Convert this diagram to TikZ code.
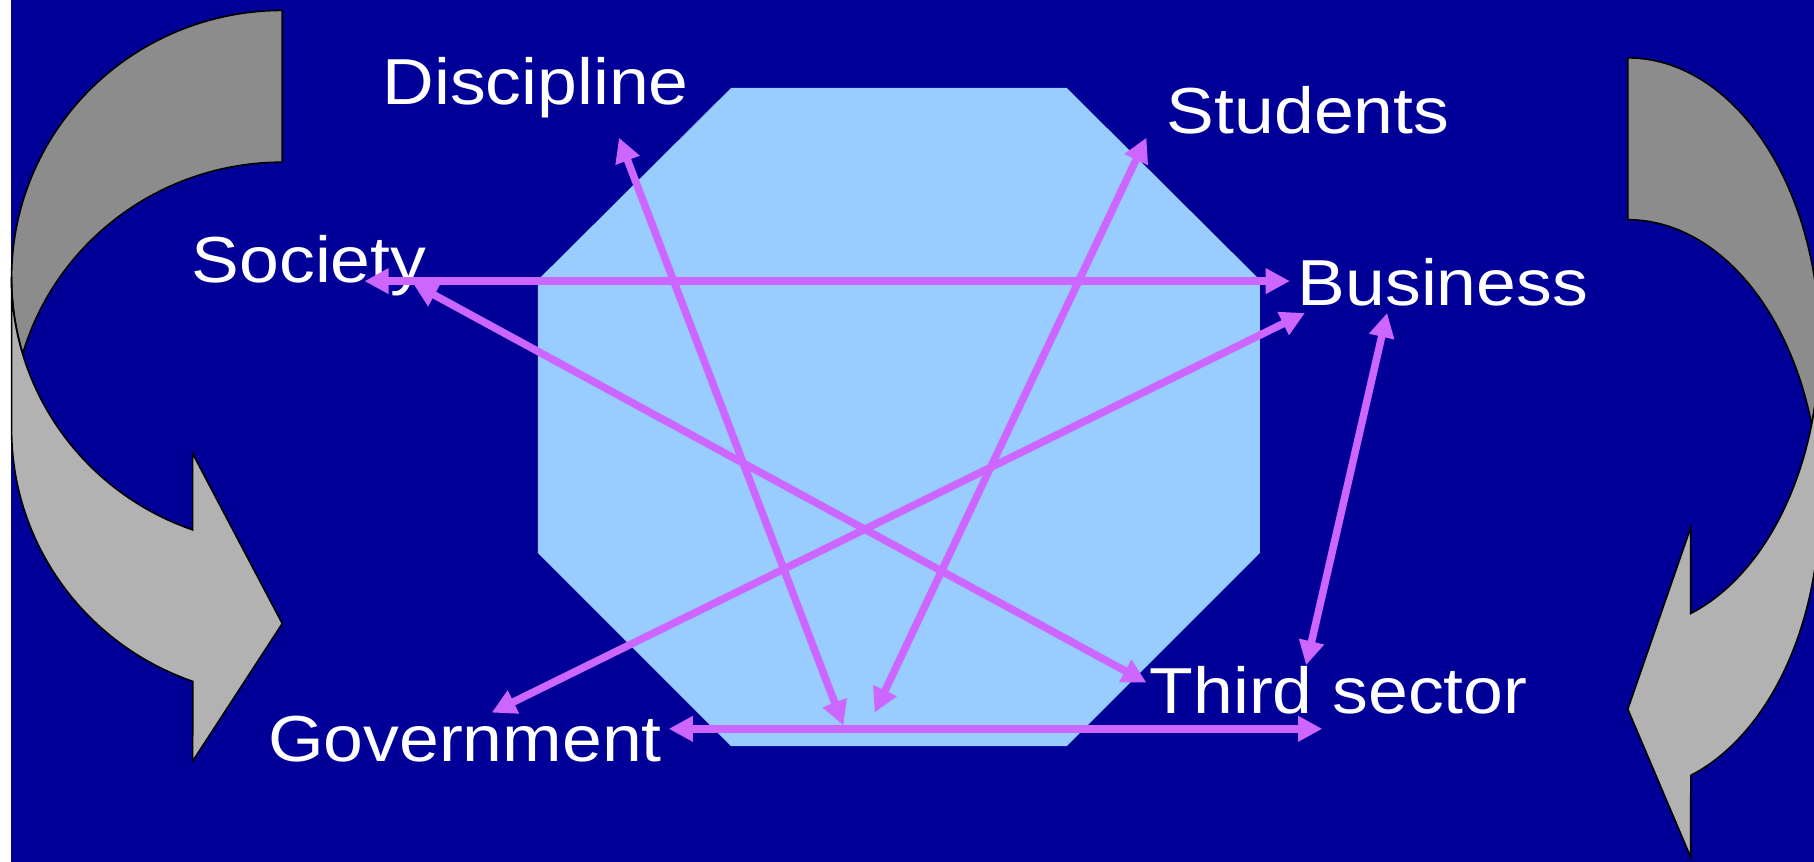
\documentclass[tikz,border=0pt]{standalone}
\usepackage{fontspec}
\setmainfont{Liberation Sans}[FakeStretch=1.1]
\usetikzlibrary{arrows.meta}
\definecolor{slideblue}{HTML}{000099}
\definecolor{octblue}{HTML}{99CCFF}
\definecolor{linkpurple}{HTML}{CC66FF}
\definecolor{bandfront}{HTML}{B2B2B2}
\definecolor{bandback}{HTML}{8C8C8C}
\begin{document}
\begin{tikzpicture}[
                actor/.style={
                    text=white,
                    inner sep=0pt,
                    anchor=base west,
                    font=\fontsize{16}{19}\selectfont
                },
                link/.style={
                    <->,
                    draw=linkpurple,
                    line width=0.065cm,
                    >={Triangle[length=0.21cm,width=0.21cm]}
                },
                band/.style={
                    draw=black,
                    line width=0.4pt
                }
            ]
                \useasboundingbox (0,0) rectangle (15.68,7.45);
                \clip (0,0) rectangle (15.68,7.45);
                \fill[white] (0,0) rectangle (15.68,7.45);
                \fill[slideblue] (0.095,0) rectangle (15.68,7.45);

                \filldraw[band, fill=bandback] (2.44,7.36)
                    arc[start angle=90, end angle=196.5, x radius=2.34, y radius=2.31]
                    arc[start angle=163.5, end angle=90, x radius=2.34, y radius=2.31] -- cycle;
                \filldraw[band, fill=bandfront] (0.10,5.05) -- (0.10,3.74)
                    arc[start angle=180, end angle=250.7, x radius=2.34, y radius=2.31]
                    -- (1.665,0.87) -- (2.44,2.06) -- (1.665,3.53) -- (1.665,2.87)
                    arc[start angle=250.7, end angle=180, x radius=2.34, y radius=2.31] -- cycle;

                \filldraw[band, fill=bandback] (14.07,6.95)
                    arc[start angle=90, end angle=-16.46, x radius=1.658, y radius=2.47]
                    arc[start angle=16.46, end angle=90, x radius=1.658, y radius=2.47] -- cycle;
                \filldraw[band, fill=bandfront] (15.728,4.48) -- (15.728,3.08)
                    arc[start angle=0, end angle=-70.8, x radius=1.658, y radius=2.47]
                    -- (14.614,0.04) -- (14.07,1.32) -- (14.614,2.89) -- (14.614,2.147)
                    arc[start angle=-70.8, end angle=0, x radius=1.658, y radius=2.47] -- cycle;

                \fill[octblue] (6.32,6.69) -- (9.22,6.69) -- (10.89,5.03) -- (10.89,2.67)
                    -- (9.22,1.00) -- (6.32,1.00) -- (4.65,2.67) -- (4.65,5.03) -- cycle;

                \node[actor] (discipline) at (3.30,6.55) {Discipline};
                \node[actor] (students) at (10.08,6.30) {Students};
                \node[actor] (society) at (1.65,5.01) {Society};
                \node[actor] (business) at (11.21,4.81) {Business};
                \node[actor] (government) at (2.31,0.87) {Government};
                \node[actor] (third) at (9.93,1.285) {Third sector};

                \coordinate (soc-e) at (3.15,5.02);
                \coordinate (soc-se) at (3.57,5.00);
                \coordinate (dis-s) at (5.35,6.26);
                \coordinate (stu-s) at (9.91,6.26);
                \coordinate (biz-w) at (11.15,5.02);
                \coordinate (biz-sw) at (11.28,4.745);
                \coordinate (biz-s) at (11.99,4.745);
                \coordinate (gov-ne) at (4.25,1.29);
                \coordinate (gov-e) at (5.78,1.15);
                \coordinate (mid-a) at (7.29,1.18);
                \coordinate (mid-b) at (7.56,1.29);
                \coordinate (thr-w) at (9.91,1.55);
                \coordinate (thr-n) at (11.29,1.70);
                \coordinate (thr-s) at (11.43,1.15);

                \draw[link] (soc-e) -- (biz-w);
                \draw[link] (soc-se) -- (thr-w);
                \draw[link] (dis-s) -- (mid-a);
                \draw[link] (stu-s) -- (mid-b);
                \draw[link] (biz-sw) -- (gov-ne);
                \draw[link] (biz-s) -- (thr-n);
                \draw[link] (gov-e) -- (thr-s);
        \end{tikzpicture}
\end{document}
